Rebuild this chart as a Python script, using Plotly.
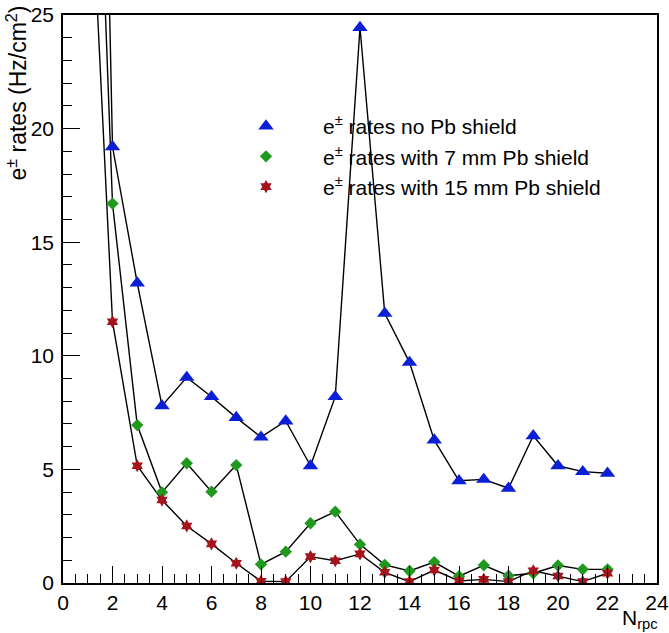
import plotly.graph_objects as go

# Number of RPC layer
n_rpc = list(range(1, 23))

# e+/- rates (Hz/cm^2) for each shielding configuration
rate_no_shield = [70.0, 19.2, 13.2, 7.8, 9.05, 8.2, 7.28, 6.42, 7.13, 5.16, 8.2, 24.45,
                  11.87, 9.71, 6.29, 4.5, 4.56, 4.17, 6.48, 5.16, 4.9, 4.83]
rate_7mm = [46.0, 16.7, 6.95, 3.99, 5.27, 4.02, 5.19, 0.82, 1.38, 2.63, 3.14, 1.7,
            0.8, 0.53, 0.92, 0.3, 0.78, 0.32, 0.43, 0.77, 0.6, 0.6]
rate_15mm = [34.0, 11.5, 5.16, 3.65, 2.51, 1.72, 0.87, 0.08, 0.06, 1.16, 0.98, 1.28,
             0.47, 0.06, 0.57, 0.09, 0.16, 0.06, 0.54, 0.31, 0.06, 0.43]

series_names = [
    "e<sup>±</sup> rates no Pb shield",
    "e<sup>±</sup> rates with 7 mm Pb shield",
    "e<sup>±</sup> rates with 15 mm Pb shield",
]
series_values = [rate_no_shield, rate_7mm, rate_15mm]
series_colors = ["#0a1fd6", "#1f9a1f", "#a3141c"]
series_symbols = ["triangle-up", "diamond", "hexagram"]
series_sizes = [13.5, 9.5, 10]

FONT = "Liberation Sans, Arial, Helvetica, sans-serif"

fig = go.Figure()

# connecting lines (not in the legend)
for vals in series_values:
    fig.add_trace(go.Scatter(
        x=n_rpc, y=vals, mode="lines",
        line=dict(color="black", width=1.4),
        showlegend=False, hoverinfo="skip",
    ))

# markers
for name, vals, col, sym, sz in zip(series_names, series_values, series_colors,
                                    series_symbols, series_sizes):
    fig.add_trace(go.Scatter(
        x=n_rpc, y=vals, mode="markers", name=name,
        marker=dict(color=col, symbol=sym, size=sz, line=dict(width=0)),
        cliponaxis=True,
    ))

fig.update_xaxes(
    range=[0, 24], dtick=2, tick0=0, automargin=False,
    ticks="inside", ticklen=17, tickwidth=1.3, tickcolor="black",
    minor=dict(dtick=0.5, ticks="inside", ticklen=9, tickwidth=1.3, tickcolor="black"),
    showline=True, linecolor="black", linewidth=1.6, mirror=True,
    showgrid=False, zeroline=False,
    tickfont=dict(family=FONT, size=21, color="black"),
)
fig.update_yaxes(
    range=[0, 25], dtick=5, tick0=0, automargin=False,
    ticks="inside", ticklen=17, tickwidth=1.3, tickcolor="black",
    minor=dict(dtick=1, ticks="inside", ticklen=9, tickwidth=1.3, tickcolor="black"),
    showline=True, linecolor="black", linewidth=1.6, mirror=True,
    showgrid=False, zeroline=False,
    tickfont=dict(family=FONT, size=21, color="black"),
    ticklabelstandoff=3,
)

# axis titles, aligned to the axis ends
fig.add_annotation(
    text="e<sup>±</sup> rates (Hz/cm<sup>2</sup>)", textangle=-90,
    xref="paper", yref="paper", x=0, y=1, xanchor="right", yanchor="top",
    xshift=-30, yshift=11, showarrow=False,
    font=dict(family=FONT, size=23, color="black"),
)
fig.add_annotation(
    text="N<sub>rpc</sub>",
    xref="paper", yref="paper", x=1, y=0, xanchor="right", yanchor="top",
    yshift=-21, xshift=3, showarrow=False,
    font=dict(family=FONT, size=21, color="black"),
)

fig.update_layout(
    width=669, height=633,
    margin=dict(l=63, r=12, t=15, b=50),
    plot_bgcolor="white", paper_bgcolor="white",
    legend=dict(
        x=0.2458, y=0.84, xanchor="left", yanchor="top",
        bgcolor="rgba(0,0,0,0)", borderwidth=0,
        font=dict(family=FONT, size=21, color="black"),
        itemwidth=104, tracegroupgap=0,
    ),
)

fig.write_html("out.html")
